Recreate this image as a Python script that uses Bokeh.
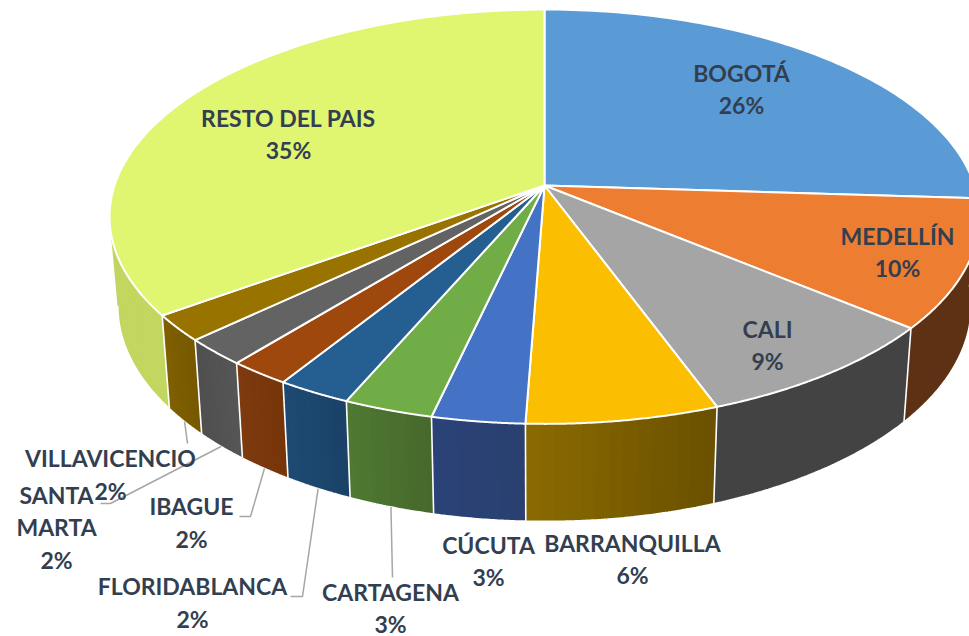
import numpy as np
from bokeh.plotting import figure
from bokeh.models import Range1d
from bokeh.core.properties import value
from bokeh.embed import file_html
from bokeh.resources import INLINE

# ---- data ----
cities = ["BOGOTÁ", "MEDELLÍN", "CALI", "BARRANQUILLA", "CÚCUTA", "CARTAGENA",
          "FLORIDABLANCA", "IBAGUE", "SANTA MARTA", "VILLAVICENCIO", "RESTO DEL PAIS"]
shares = [26.0, 10.0, 8.4, 6.2, 3.0, 2.9, 2.4, 2.0, 2.1, 2.05, 34.95]
pct_labels = ["26%", "10%", "9%", "6%", "3%", "3%", "2%", "2%", "2%", "2%", "35%"]

# ---- styles ----
top_colors = ["#5B9BD5", "#ED7D31", "#A5A5A5", "#FBBE00", "#4472C4", "#70AD47",
              "#255E91", "#9E480E", "#636363", "#997300", "#E0F570"]
wall_start = ["#2F5C86", "#5E3014", "#434343", "#6A5000", "#2A4070", "#46682C",
              "#1B4267", "#763509", "#565656", "#765800", "#C2D660"]
wall_end = ["#2F5C86", "#5E3014", "#434343", "#8A6A00", "#2B4278", "#4F7A32",
            "#1D4A73", "#7F3A0F", "#4F4F4F", "#806000", "#BFD25E"]
text_color = "#333F50"
leader_color = "#A6A6A6"

# ---- label layout (page pixels): per city, lines and centres ----
label_lines = [
    [("BOGOTÁ", 741, 72), ("26%", 741, 104)],
    [("MEDELLÍN", 897, 235), ("10%", 897, 267)],
    [("CALI", 767, 328), ("9%", 767, 360)],
    [("BARRANQUILLA", 632, 542), ("6%", 632, 574)],
    [("CÚCUTA", 488, 544), ("3%", 488, 576)],
    [("CARTAGENA", 390, 591), ("3%", 390, 623)],
    [("FLORIDABLANCA", 192, 585), ("2%", 192, 618)],
    [("IBAGUE", 191, 505), ("2%", 191, 538)],
    [("SANTA", 56, 494), ("MARTA", 56, 526), ("2%", 56, 559)],
    [("VILLAVICENCIO", 110, 457), ("2%", 110, 490)],
    [("RESTO DEL PAIS", 288, 117), ("35%", 288, 149)],
]
# elbow points of leader lines, by city index
leaders = {
    5: [(392, 577)],
    6: [(302, 596), (290, 596)],
    7: [(250, 516), (239, 516)],
    8: [(110, 503), (100, 503)],
    9: [(187, 443)],
}

# ---- projection of the tilted pie ----
CX, CY, R, H, K = 544.0, 185.0, 430.0, 202.5, 0.1505


def top_rim(theta):
    d = 1 + K * np.cos(theta)
    return CX + R * np.sin(theta) / d, CY - H * np.cos(theta) / d


def bottom_rim(theta):
    x, y = top_rim(theta)
    return CX + 0.981 * (x - CX), 273.0 + 1.04 * (y - CY)


def hex2rgb(c):
    return np.array([int(c[i:i + 2], 16) for i in (1, 3, 5)], dtype=float)


def mix(a, b, t):
    r = hex2rgb(a) * (1 - t) + hex2rgb(b) * t
    return "#%02x%02x%02x" % tuple(int(round(v)) for v in r)


edges = np.concatenate([[0], np.cumsum(shares)]) / sum(shares) * 2 * np.pi
# the wall's outline is only seen between the pie's two side extremes
vis_lo, vis_hi = np.arccos(-K), 2 * np.pi - np.arccos(-K)

p = figure(width=969, height=636, x_range=Range1d(0, 969), y_range=Range1d(636, 0),
           output_backend="svg", toolbar_location=None, min_border=0,
           x_axis_type=None, y_axis_type=None, outline_line_color=None,
           background_fill_color="white", border_fill_color="white")
p.grid.visible = False

# side walls: each strip runs on to the wedge's end and the next paints over it
sx, sy, sc = [], [], []
ox, oy = [], []
for i in range(len(shares)):
    a0, a1 = edges[i], edges[i + 1]
    n = 1 if wall_start[i] == wall_end[i] else 14
    th = np.linspace(a0, a1, 121)
    tx, ty = top_rim(th)
    bx, by = bottom_rim(th)
    for j in range(n):
        k = j * 120 // n
        sx.append(list(tx[k:]) + list(bx[k:][::-1]))
        sy.append(list(ty[k:]) + list(by[k:][::-1]))
        sc.append(mix(wall_start[i], wall_end[i], (j + 0.5) / n))
    # white edges: the vertical seam at the wedge's start and the visible lower rim
    lo, hi = max(a0, vis_lo), min(a1, vis_hi)
    if lo < hi:
        ph = np.linspace(lo, hi, 60)
        qx, qy = bottom_rim(ph)
        ox.append(list(qx))
        oy.append(list(qy))
    if vis_lo - 0.2 < a0 < vis_hi:
        t0x, t0y = top_rim(a0)
        b0x, b0y = bottom_rim(a0)
        ox.append([t0x, b0x])
        oy.append([t0y, b0y])
p.patches(sx, sy, fill_color=sc, line_color=None)
p.multi_line(ox, oy, line_color="white", line_width=1.6)

# top surface
wx, wy = [], []
for i in range(len(shares)):
    th = np.linspace(edges[i], edges[i + 1], 90)
    tx, ty = top_rim(th)
    wx.append([CX] + list(tx))
    wy.append([CY] + list(ty))
p.patches(wx, wy, fill_color=top_colors, line_color="white", line_width=2, line_join="round")

# leader lines start at the wall's lower rim, at the wedge's middle angle
for i, pts in leaders.items():
    x0, y0 = bottom_rim((edges[i] + edges[i + 1]) / 2)
    p.line([x0] + [q[0] for q in pts], [y0] + [q[1] for q in pts],
           line_color=leader_color, line_width=1.5)

# labels
tx, ty, tt = [], [], []
for lines in label_lines:
    for s, x, y in lines:
        tt.append(s)
        tx.append(x)
        ty.append(y)
p.text(tx, ty, text=tt, text_font=value("Lato"), text_font_style="bold", text_font_size="23px",
       text_color=text_color, text_align="center", text_baseline="middle")

open("out.html", "w").write(file_html(p, INLINE))
